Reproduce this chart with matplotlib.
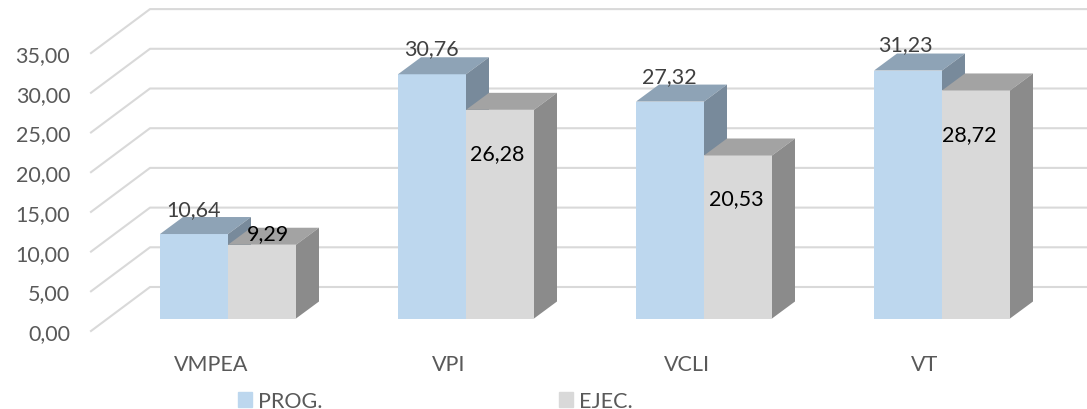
import numpy as np
import matplotlib.pyplot as plt
from matplotlib.patches import Patch

categories = ['VMPEA', 'VPI', 'VCLI', 'VT']
prog = [10.64, 30.76, 27.32, 31.23]
ejec = [9.29, 26.28, 20.53, 28.72]
yticks = [0, 5, 10, 15, 20, 25, 30, 35]


def fmt(v):
    return f'{v:.2f}'.replace('.', ',')


plt.rcParams['font.family'] = ['Lato', 'DejaVu Sans']

W, H = 1087, 410
fig = plt.figure(figsize=(W / 100, H / 100), dpi=100)

# axes span from the left wall of the fake 3d box to the image edge
ax = fig.add_axes([91 / W, (H - 332) / H, (W - 91) / W, 332 / H])
px_x = 1 / 238          # category units per pixel
px_y = 5 / 39.7         # value units per pixel
x0 = (228 - 91) * px_x
ax.set_xlim(-x0, (W - 91) * px_x - x0)
ax.set_ylim(0, 332 * px_y)
for s in ax.spines.values():
    s.set_visible(False)

# back wall + side wall grid
wall_x = -x0 + 59 * px_x
wall_y = 44 * px_y
for v in yticks:
    ax.plot([-x0, wall_x, ax.get_xlim()[1]], [v, v + wall_y, v + wall_y],
            color='#d9d9d9', lw=1.5, zorder=1, clip_on=False)

base = 12.5 * px_y


def bar3d(x, h, width, front, top, side):
    dx = 23 * px_x
    dy = 17 * px_y
    ax.bar(x, h, width, bottom=base, align='edge', color=front, zorder=2)
    y = base + h
    ax.fill([x, x + width, x + width + dx, x + dx],
            [y, y, y + dy, y + dy], color=top, lw=0, zorder=2)
    ax.fill([x + width, x + width + dx, x + width + dx, x + width],
            [base, base + dy, y + dy, y], color=side, lw=0, zorder=2)


xs = np.arange(len(categories))
w = 68 * px_x
for i in xs:
    bar3d(i - w, prog[i], w, '#bdd7ee', '#8ea3b6', '#788a9b')
    bar3d(i, ejec[i], w, '#d9d9d9', '#a3a3a3', '#8b8b8b')

# value labels, offsets in pixels from the bar top
prog_off = [(-34, 25), (-35, 26), (-35, 25), (-37, 26)]
ejec_off = [(40, 12), (31, -43), (32, -43), (27, -44)]
for i in xs:
    ax.text(i + prog_off[i][0] * px_x, base + prog[i] + prog_off[i][1] * px_y, fmt(prog[i]),
            ha='center', va='center', fontsize=15.5, color='#404040', zorder=3)
    ax.text(i + ejec_off[i][0] * px_x, base + ejec[i] + ejec_off[i][1] * px_y, fmt(ejec[i]),
            ha='center', va='center', fontsize=15.5, color='black', zorder=3)

ax.set_yticks(yticks)
ax.set_yticklabels([fmt(v) for v in yticks])
ax.set_xticks(xs - 17 * px_x)
ax.set_xticklabels(categories)
ax.tick_params(axis='both', length=0, labelsize=15.5, labelcolor='#595959')
ax.tick_params(axis='y', pad=15)
ax.tick_params(axis='x', pad=16.5)

handles = [Patch(color='#bdd7ee', label='PROG.'), Patch(color='#d9d9d9', label='EJEC.')]
fig.legend(handles=handles, ncol=2, loc='center left', bbox_to_anchor=(238 / W, 8 / H),
           frameon=False, fontsize=15.5, labelcolor='#595959', handlelength=0.65, handleheight=0.65,
           handletextpad=0.28, columnspacing=11, borderpad=0, borderaxespad=0)

fig.savefig('out.png', dpi=100)
